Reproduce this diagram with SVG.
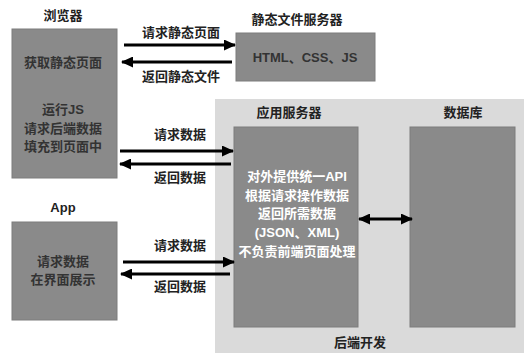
<svg xmlns="http://www.w3.org/2000/svg" width="524" height="353" viewBox="0 0 524 353">
<style>
text{font-family:"Liberation Sans","Noto Sans CJK SC",sans-serif;font-weight:bold;font-size:13px;text-anchor:middle;fill:#222}
.box{fill:#8a8a8a;stroke:#7c7c7c;stroke-width:1}
.in{fill:#333}
.w{fill:#fff}
.ln{stroke:#000;stroke-width:3;fill:none}
</style>
<defs>
<marker id="ah" viewBox="0 0 12 11" refX="11" refY="5.5" markerWidth="12" markerHeight="11" markerUnits="userSpaceOnUse" orient="auto-start-reverse">
<path d="M0,0 L12,5.5 L0,11 Z" fill="#000"/>
</marker>
</defs>
<rect width="524" height="353" fill="#fff"/>
<g id="backend">
<rect x="215" y="99" width="309" height="254" fill="#dadada"/>
<text x="360" y="347">后端开发</text>
</g>
<g id="browser">
<text x="63" y="20">浏览器</text>
<rect class="box" x="12" y="29" width="105" height="149"/>
<text class="in" x="63" y="67">获取静态页面</text>
<text class="in" x="63" y="114">运行JS</text>
<text class="in" x="63" y="133">请求后端数据</text>
<text class="in" x="63" y="151">填充到页面中</text>
</g>
<g id="static-server">
<text x="297" y="24">静态文件服务器</text>
<rect class="box" x="236" y="33" width="139" height="48"/>
<text class="in" x="305" y="62">HTML、CSS、JS</text>
</g>
<g id="app">
<text x="63" y="212">App</text>
<rect class="box" x="12" y="222" width="105" height="98"/>
<text class="in" x="63" y="266">请求数据</text>
<text class="in" x="63" y="284">在界面展示</text>
</g>
<g id="app-server">
<text x="289" y="117">应用服务器</text>
<rect class="box" x="234" y="127" width="124" height="200"/>
<text class="w" x="297" y="181">对外提供统一API</text>
<text class="w" x="297" y="200">根据请求操作数据</text>
<text class="w" x="297" y="218">返回所需数据</text>
<text class="w" x="297" y="237">(JSON、XML)</text>
<text class="w" x="297" y="256">不负责前端页面处理</text>
</g>
<g id="database">
<text x="463" y="117">数据库</text>
<rect class="box" x="410" y="127" width="105" height="200"/>
</g>
<g id="connectors">
<line class="ln" x1="124" y1="45" x2="235" y2="45" marker-end="url(#ah)"/>
<line class="ln" x1="232" y1="62" x2="122" y2="62" marker-end="url(#ah)"/>
<line class="ln" x1="120" y1="151" x2="233" y2="151" marker-end="url(#ah)"/>
<line class="ln" x1="231" y1="164" x2="120" y2="164" marker-end="url(#ah)"/>
<line class="ln" x1="123" y1="262" x2="234" y2="262" marker-end="url(#ah)"/>
<line class="ln" x1="230" y1="274" x2="121" y2="274" marker-end="url(#ah)"/>
<line class="ln" x1="359" y1="219" x2="412" y2="219" marker-start="url(#ah)" marker-end="url(#ah)"/>
<text x="181" y="37">请求静态页面</text>
<text x="181" y="81">返回静态文件</text>
<text x="180" y="139">请求数据</text>
<text x="180" y="182">返回数据</text>
<text x="180" y="250">请求数据</text>
<text x="180" y="291">返回数据</text>
</g>
</svg>
